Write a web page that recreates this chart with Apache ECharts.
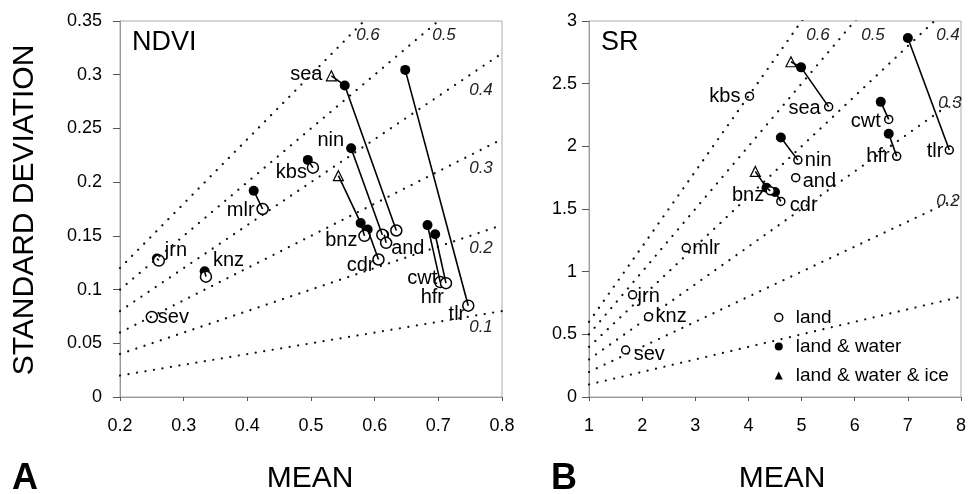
<!DOCTYPE html>
<html>
<head>
<meta charset="utf-8">
<script src="https://cdn.jsdelivr.net/npm/echarts@6/dist/echarts.min.js"></script>
<style>
  html, body { margin: 0; padding: 0; background: #fff; }
  #chart { width: 969px; height: 494px; }
</style>
</head>
<body>
<div id="chart"></div>
<script>
// sites, same order in every array
const sites = ['jrn', 'knz', 'sev', 'mlr', 'kbs', 'sea', 'nin', 'and', 'bnz', 'cdr', 'cwt', 'hfr', 'tlr'];

// NDVI panel: [mean, standard deviation]
const ndviLand = [[0.261, 0.127], [0.335, 0.112], [0.250, 0.0745], [0.424, 0.175], [0.503, 0.2135], [0.634, 0.155],
  [0.612, 0.151], [0.618, 0.1435], [0.584, 0.150], [0.606, 0.128], [0.703, 0.107], [0.712, 0.106], [0.747, 0.085]];
const ndviWater = [[0.258, 0.129], [0.333, 0.117], null, [0.410, 0.192], [0.495, 0.2207], [0.553, 0.290],
  [0.563, 0.2315], [0.615, 0.151], [0.578, 0.162], [0.589, 0.156], [0.683, 0.160], [0.695, 0.1515], [0.648, 0.3045]];
const ndviIce = [null, null, null, null, null, [0.532, 0.299], null, null, [0.543, 0.206], null, null, null, null];

// SR panel
const srLand = [[1.82, 0.815], [2.12, 0.64], [1.69, 0.375], [2.83, 1.19], [4.02, 2.40], [5.51, 2.315],
  [4.93, 1.89], [4.89, 1.75], [4.41, 1.645], [4.61, 1.56], [6.64, 2.215], [6.79, 1.92], [7.78, 1.97]];
const srWater = [null, null, null, null, null, [4.99, 2.63], [4.61, 2.07], null, [4.34, 1.67], [4.50, 1.635],
  [6.49, 2.355], [6.64, 2.10], [7.00, 2.865]];
const srIce = [null, null, null, null, null, [4.80, 2.675], null, null, [4.13, 1.80], null, null, null, null];

// coefficient of variation reference lines
const cvLevels = [0.1, 0.2, 0.3, 0.4, 0.5, 0.6];
const ndviMeanRange = [0.2, 0.8];
const srMeanRange = [1, 8];

// tick labels
const ndviXTicks = ['0.2', '0.3', '0.4', '0.5', '0.6', '0.7', '0.8'];
const ndviYTicks = ['0', '0.05', '0.1', '0.15', '0.2', '0.25', '0.3', '0.35'];
const srXTicks = ['1', '2', '3', '4', '5', '6', '7', '8'];
const srYTicks = ['0', '0.5', '1', '1.5', '2', '2.5', '3'];

// where each site name sits: [anchor point, side, dx, dy]
const ndviLabelLayout = {
  jrn: ['land', 'right', 6, -10], knz: ['land', 'right', 7, -16], sev: ['land', 'right', 6, 1],
  mlr: ['land', 'left', -8, 1], kbs: ['land', 'left', -6, 5], sea: ['ice', 'left', -9, -1],
  nin: ['water', 'left', -7, -8], and: ['land', 'right', 5, 6], bnz: ['land', 'left', -7, 5],
  cdr: ['land', 'left', -4, 6], cwt: ['land', 'left', -3, -4], hfr: ['land', 'left', -2, 14],
  tlr: ['land', 'left', -3, 9]
};
const srLabelLayout = {
  kbs: ['land', 'left', -9, 0], sea: ['land', 'left', -8, 2], tlr: ['land', 'left', -6, 1],
  cwt: ['land', 'left', -8, 2], hfr: ['land', 'left', -7, 0], nin: ['land', 'right', 7, 0],
  and: ['land', 'right', 7, 4], bnz: ['land', 'left', -6, 5], cdr: ['land', 'right', 9, 4],
  mlr: ['land', 'right', 6, 1], jrn: ['land', 'right', 5, 2], knz: ['land', 'right', 7, 0],
  sev: ['land', 'right', 8, 4]
};

const FONT = '"Liberation Sans", Arial, Helvetica, sans-serif';

function panelSeries(idx, land, water, ice, range, layout, circleSize) {
  const out = [];
  const ax = { xAxisIndex: idx, yAxisIndex: idx };

  cvLevels.forEach(function (c) {
    out.push(Object.assign({
      type: 'line', silent: true, symbol: 'none', clip: true,
      data: [[range[0], c * range[0]], [range[1], c * range[1]]],
      lineStyle: { color: '#111', width: 2.2, type: [0.1, 8.5], cap: 'round' }
    }, ax));
  });

  sites.forEach(function (s, i) {
    const pts = [ice[i], water[i], land[i]].filter(function (p) { return p; });
    if (pts.length > 1) {
      out.push(Object.assign({
        type: 'line', silent: true, symbol: 'none', data: pts,
        lineStyle: { color: '#000', width: 1.6 }
      }, ax));
    }
  });

  out.push(Object.assign({
    name: 'land & water', type: 'scatter', symbol: 'circle', symbolSize: 10,
    data: water.filter(function (p) { return p; }),
    itemStyle: { color: '#000', opacity: 1 }
  }, ax));
  out.push(Object.assign({
    name: 'land', type: 'scatter', symbol: 'circle', symbolSize: circleSize,
    data: land,
    itemStyle: { color: '#fff', borderColor: '#000', borderWidth: 1.5, opacity: 1 }
  }, ax));
  out.push(Object.assign({
    name: 'land & water & ice', type: 'scatter', symbol: 'triangle', symbolSize: 10,
    data: ice.filter(function (p) { return p; }),
    itemStyle: { color: '#fff', borderColor: '#000', borderWidth: 1.2, opacity: 1 }
  }, ax));

  const pick = { land: land, water: water, ice: ice };
  out.push(Object.assign({
    type: 'scatter', silent: true, symbolSize: 0,
    itemStyle: { opacity: 1 },
    data: sites.map(function (s, i) {
      const l = layout[s];
      return {
        name: s, value: pick[l[0]][i],
        label: { show: true, position: l[1], distance: 0, offset: [l[2], l[3]] }
      };
    }),
    label: { formatter: '{b}', fontSize: 20, color: '#000', opacity: 1, fontFamily: FONT }
  }, ax));
  return out;
}

function valueAxis(grid, min, max, step, ticks, isX, margin) {
  return {
    type: 'value', gridIndex: grid, min: min, max: max, interval: step,
    splitLine: { show: false },
    axisLine: { show: true, onZero: false, lineStyle: { color: '#999', width: 1 } },
    axisTick: { show: true, length: isX ? 4 : 7, lineStyle: { color: '#555' } },
    axisLabel: {
      margin: margin, fontSize: 18, color: '#000', fontFamily: FONT,
      formatter: function (v) {
        const k = Math.round((v - min) / step);
        return ticks[k] !== undefined ? ticks[k] : '';
      }
    }
  };
}

const chart = echarts.init(document.getElementById('chart'), null, { renderer: 'canvas' });

function txt(x, y, text, size, extra) {
  return Object.assign({
    type: 'text', x: x, y: y, silent: true,
    style: Object.assign({ text: text, fontSize: size, fontFamily: FONT, fill: '#000' }, extra || {})
  });
}
function cvTxt(x, y, text) {
  return txt(x, y, text, 17, { fontStyle: 'italic', fill: '#222', textAlign: 'center', textVerticalAlign: 'middle' });
}

const option = {
  animation: false,
  backgroundColor: '#fff',
  grid: [
    { left: 120, top: 21, width: 382, height: 376, show: true, borderColor: '#aaa', borderWidth: 1 },
    { left: 589, top: 21, width: 376, height: 376, show: true, borderColor: '#aaa', borderWidth: 1 }
  ],
  xAxis: [
    valueAxis(0, 0.2, 0.8, 0.1, ndviXTicks, true, 20),
    valueAxis(1, 1, 8, 1, srXTicks, true, 20)
  ],
  yAxis: [
    valueAxis(0, 0, 0.35, 0.05, ndviYTicks, false, 18),
    valueAxis(1, 0, 3, 0.5, srYTicks, false, 12)
  ],
  legend: {
    orient: 'vertical', left: 769, top: 303, itemGap: 10, itemWidth: 8, itemHeight: 8,
    selectedMode: false,
    textStyle: { fontSize: 19, lineHeight: 19, color: '#000', fontFamily: FONT, padding: [0, 0, 0, 8] },
    data: [
      { name: 'land', icon: 'circle', itemStyle: { color: '#fff', borderColor: '#000', borderWidth: 1.5 } },
      { name: 'land & water', icon: 'circle', itemStyle: { color: '#000', borderWidth: 0 } },
      { name: 'land & water & ice', icon: 'triangle', itemStyle: { color: '#000', borderWidth: 0 } }
    ]
  },
  series: [].concat(
    panelSeries(0, ndviLand, ndviWater, ndviIce, ndviMeanRange, ndviLabelLayout, 11),
    panelSeries(1, srLand, srWater, srIce, srMeanRange, srLabelLayout, 8)
  ),
  graphic: [
    txt(132, 43, 'NDVI', 27, { textVerticalAlign: 'middle' }),
    txt(601, 43, 'SR', 27, { textVerticalAlign: 'middle' }),
    txt(25, 210, 'STANDARD DEVIATION', 30, { textAlign: 'center', textVerticalAlign: 'middle' }),
    txt(310, 479, 'MEAN', 30, { textAlign: 'center', textVerticalAlign: 'middle' }),
    txt(782, 479, 'MEAN', 30, { textAlign: 'center', textVerticalAlign: 'middle' }),
    txt(12, 479, 'A', 36, { fontWeight: 'bold', textVerticalAlign: 'middle' }),
    txt(551, 479, 'B', 36, { fontWeight: 'bold', textVerticalAlign: 'middle' }),
    cvTxt(368, 35, '0.6'), cvTxt(444, 35, '0.5'), cvTxt(481, 90, '0.4'),
    cvTxt(481, 168, '0.3'), cvTxt(481, 248, '0.2'), cvTxt(481, 327, '0.1'),
    cvTxt(818, 35, '0.6'), cvTxt(873, 35, '0.5'), cvTxt(948, 35, '0.4'),
    cvTxt(950, 103, '0.3'), cvTxt(948, 201, '0.2')
  ]
};
option.graphic[2].rotation = Math.PI / 2;

chart.setOption(option);
</script>
</body>
</html>
